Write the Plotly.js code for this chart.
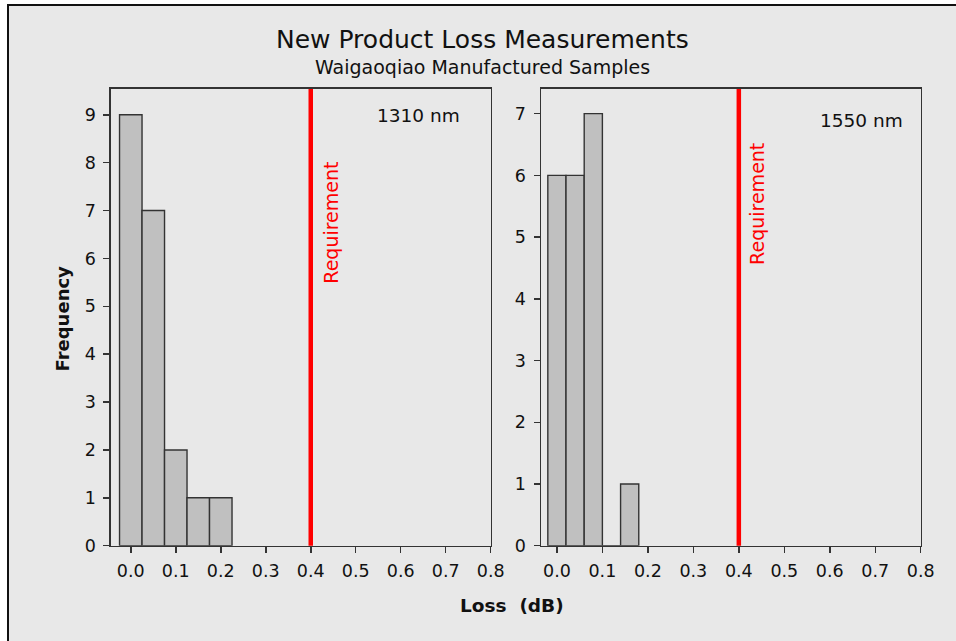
<!DOCTYPE html>
<html>
<head>
<meta charset="utf-8">
<script src="https://cdn.plot.ly/plotly-3.0.1.min.js"></script>
<style>html,body{margin:0;padding:0;background:#fff;}#chart{width:956px;height:641px;}</style>
</head>
<body>
<div id="chart"></div>
<script>
// ---- data ----
var binCenters1310 = [0.00, 0.05, 0.10, 0.15, 0.20];
var counts1310 = [9, 7, 2, 1, 1];
var binWidth1310 = 0.05;

var binCenters1550 = [0.00, 0.04, 0.08, 0.12, 0.16];
var counts1550 = [6, 6, 7, 0, 1];
var binWidth1550 = 0.04;

var requirementLoss = 0.4;
var xTickVals = [0.0, 0.1, 0.2, 0.3, 0.4, 0.5, 0.6, 0.7, 0.8];
var xTickText = ["0.0", "0.1", "0.2", "0.3", "0.4", "0.5", "0.6", "0.7", "0.8"];
var panelLabels = ["1310 nm", "1550 nm"];
var titleText = "New Product Loss Measurements";
var subtitleText = "Waigaoqiao Manufactured Samples";
var xTitleText = "Loss \u00a0(dB)";
var yTitleText = "Frequency";
var reqText = "Requirement";

var FONT = "'DejaVu Sans', Verdana, sans-serif";
var dark = "#333333";

function barTrace(x, y, w, xa, ya) {
  return {
    type: "bar", x: x, y: y, width: w, xaxis: xa, yaxis: ya,
    marker: {color: "#c0c0c0", line: {color: dark, width: 1.4}},
    hoverinfo: "x+y", showlegend: false
  };
}

var data = [
  barTrace(binCenters1310, counts1310, binWidth1310, "x", "y"),
  barTrace(binCenters1550, counts1550, binWidth1550, "x2", "y2")
];

function xAxis(domain, range, anchor) {
  return {
    domain: domain, range: range, anchor: anchor,
    tickmode: "array", tickvals: xTickVals, ticktext: xTickText,
    ticks: "outside", ticklen: 6, tickwidth: 1.5, tickcolor: dark,
    showline: true, mirror: true, linecolor: dark, linewidth: 1.5,
    showgrid: false, zeroline: false, automargin: false,
    ticklabelstandoff: 3,
    tickfont: {family: FONT, size: 17.5, color: "#111"}
  };
}
function yAxis(domain, range, anchor) {
  return {
    domain: domain, range: range, anchor: anchor,
    dtick: 1, tick0: 0,
    ticks: "outside", ticklen: 6, tickwidth: 1.5, tickcolor: dark,
    showline: true, mirror: true, linecolor: dark, linewidth: 1.5,
    showgrid: false, zeroline: false, automargin: false,
    ticklabelstandoff: 4,
    tickfont: {family: FONT, size: 17.5, color: "#111"}
  };
}

var yDom = [0.1487, 0.8612];

var layout = {
  width: 956, height: 641,
  margin: {l: 0, r: 0, t: 0, b: 0, pad: 0},
  paper_bgcolor: "#ffffff",
  plot_bgcolor: "#ffffff",
  bargap: 0,
  showlegend: false,
  xaxis: xAxis([0.1161, 0.5133], [-0.044, 0.8], "y"),
  yaxis: yAxis(yDom, [0, 9.54], "x"),
  xaxis2: xAxis([0.5659, 0.9631], [-0.035, 0.8], "y2"),
  yaxis2: yAxis(yDom, [0, 7.4], "x2"),
  shapes: [
    {type: "rect", xref: "paper", yref: "paper", x0: 8/956, x1: 1.02, y0: -0.02, y1: 1 - 5/641,
     fillcolor: "#e8e8e8", line: {color: "#111", width: 2}, layer: "below"},
    {type: "line", xref: "x", yref: "y domain", x0: requirementLoss, x1: requirementLoss, y0: 0, y1: 1,
     line: {color: "#ff0000", width: 4.5}},
    {type: "line", xref: "x2", yref: "y2 domain", x0: requirementLoss, x1: requirementLoss, y0: 0, y1: 1,
     line: {color: "#ff0000", width: 4.5}}
  ],
  annotations: [
    {text: titleText, xref: "paper", yref: "paper", x: 0.505, y: 1 - 40/641, showarrow: false,
     xanchor: "center", yanchor: "middle", font: {family: FONT, size: 25, color: "#111"}},
    {text: subtitleText, xref: "paper", yref: "paper", x: 0.505, y: 1 - 67/641, showarrow: false,
     xanchor: "center", yanchor: "middle", font: {family: FONT, size: 19, color: "#111"}},
    {text: "<b>" + xTitleText + "</b>", xref: "paper", yref: "paper", x: 512/956, y: 1 - 605/641, showarrow: false,
     xanchor: "center", yanchor: "middle", font: {family: FONT, size: 18.5, color: "#111"}},
    {text: "<b>" + yTitleText + "</b>", xref: "paper", yref: "paper", x: 61.5/956, y: 1 - 318/641, showarrow: false,
     textangle: -90, xanchor: "center", yanchor: "middle", font: {family: FONT, size: 18, color: "#111"}},
    {text: panelLabels[0], xref: "x domain", yref: "y domain", x: 0.811, y: 0.9415, showarrow: false,
     xanchor: "center", yanchor: "middle", font: {family: FONT, size: 18.5, color: "#111"}},
    {text: panelLabels[1], xref: "x2 domain", yref: "y2 domain", x: 0.845, y: 0.932, showarrow: false,
     xanchor: "center", yanchor: "middle", font: {family: FONT, size: 18.5, color: "#111"}},
    {text: reqText, xref: "x", yref: "y domain", x: requirementLoss, xshift: 20, y: 0.7066, showarrow: false,
     textangle: -90, xanchor: "center", yanchor: "middle", font: {family: FONT, size: 19, color: "#ff0000"}},
    {text: reqText, xref: "x2", yref: "y2 domain", x: requirementLoss, xshift: 18, y: 0.748, showarrow: false,
     textangle: -90, xanchor: "center", yanchor: "middle", font: {family: FONT, size: 19, color: "#ff0000"}}
  ]
};

Plotly.newPlot("chart", data, layout, {staticPlot: true, displayModeBar: false});
</script>
</body>
</html>
